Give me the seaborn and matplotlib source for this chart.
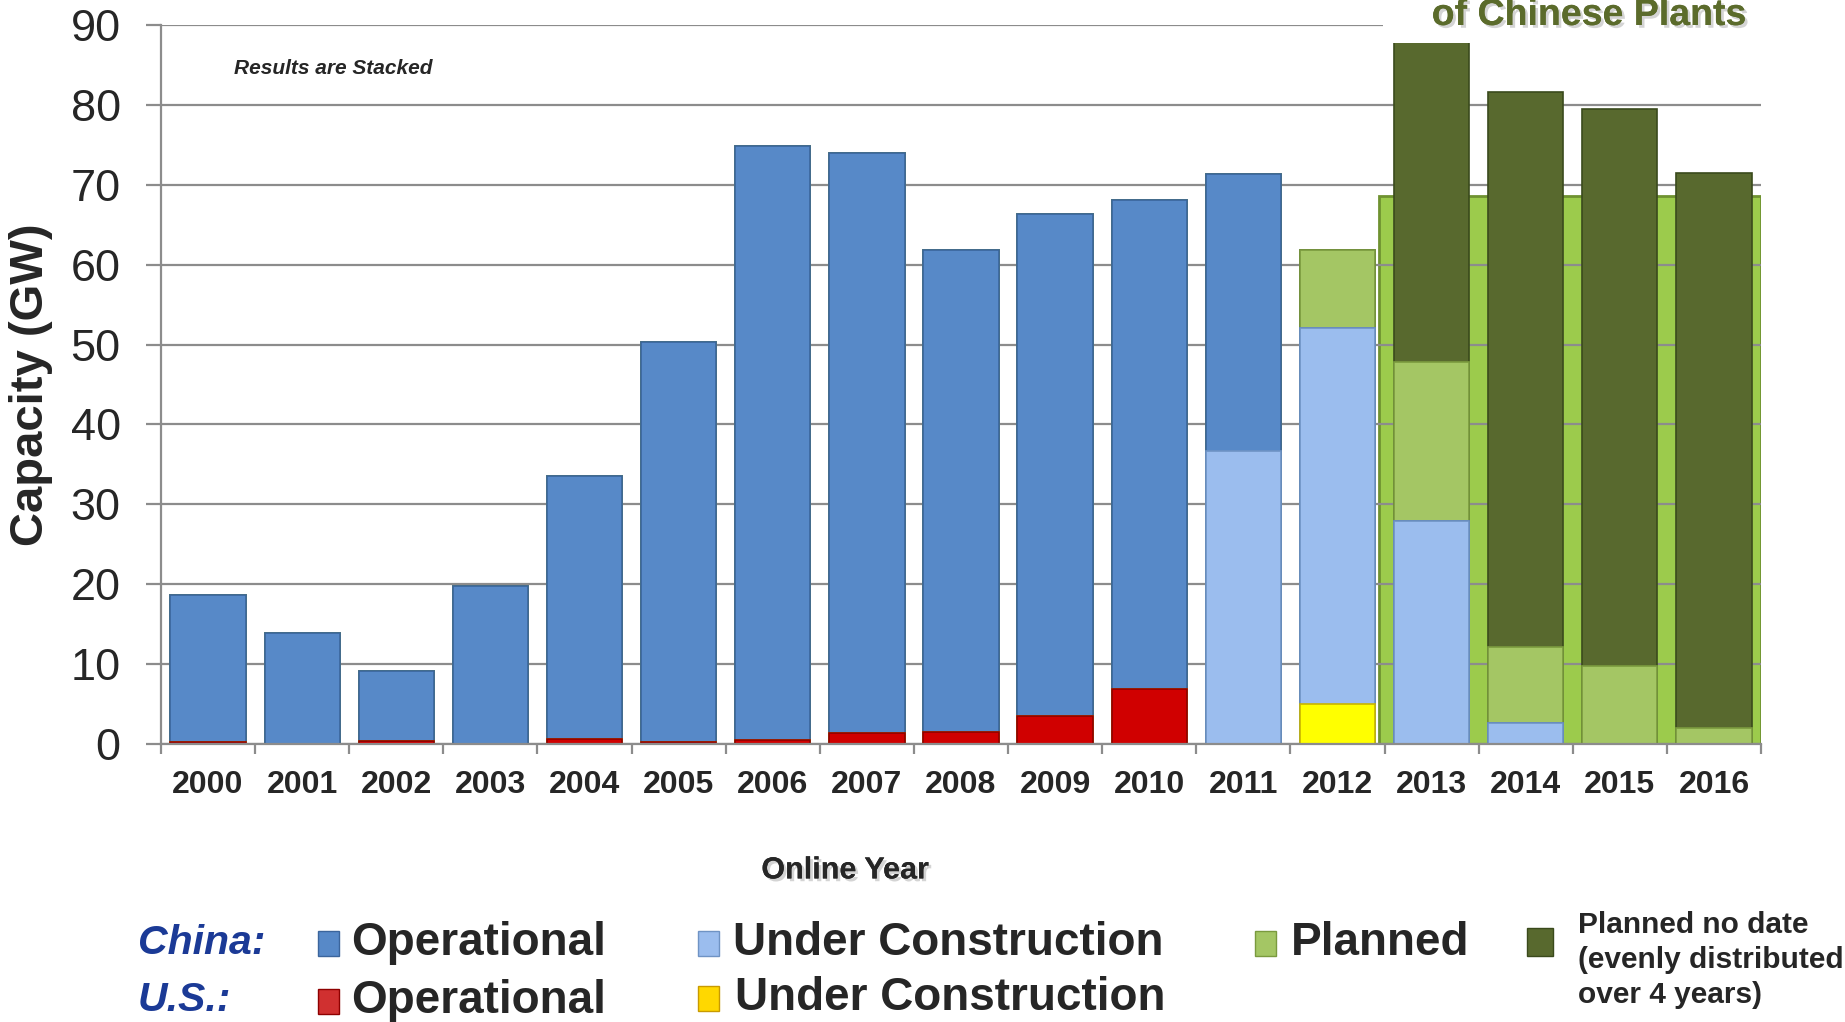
import matplotlib
matplotlib.use('Agg')
from matplotlib import pyplot as plt
from matplotlib.patches import Rectangle
import matplotlib.patheffects as pe
import numpy as np
import pandas as pd
import seaborn as sns

# **************************************************************************
# values (GW), one entry per online year

years = [str(y) for y in range(2000, 2017)]

us_operational = [0.25, 0, 0.4, 0, 0.6, 0.25, 0.55, 1.4, 1.45, 3.5, 6.9,
                  0, 0, 0, 0, 0, 0]
us_under_construction = [0, 0, 0, 0, 0, 0, 0, 0, 0, 0, 0,
                         0, 5.0, 0, 0, 0, 0]
china_under_construction = [0, 0, 0, 0, 0, 0, 0, 0, 0, 0, 0,
                            36.7, 47.1, 27.9, 2.6, 0, 0]
china_operational = [18.35, 13.9, 8.7, 19.8, 33.0, 50.05, 74.25, 72.6, 60.35, 62.9, 61.2,
                     34.7, 0, 0, 0, 0, 0]
china_planned = [0, 0, 0, 0, 0, 0, 0, 0, 0, 0, 0,
                 0, 9.7, 19.9, 9.5, 9.8, 1.95]
china_no_date = [0, 0, 0, 0, 0, 0, 0, 0, 0, 0, 0,
                 0, 0, 69.6, 69.5, 69.7, 69.55]

# planned-no-date total spread over the last four years (background band)
no_date_band_years = ['2013', '2014', '2015', '2016']
no_date_band_height = 68.6

y_ticks = [0, 10, 20, 30, 40, 50, 60, 70, 80, 90]

# **************************************************************************

sns.set_style('white')
plt.rcParams['font.family'] = ['Liberation Sans', 'DejaVu Sans']

W, H = 1845, 1022
fig = plt.figure(figsize=(W / 100, H / 100), dpi=100)
ax = fig.add_axes([161 / W, 1 - 744 / H, 1600 / W, 719 / H])

# layers, bottom to top of each stack
layers = [
    ('US operational', us_operational, '#d00000', '#8e0000'),
    ('US under construction', us_under_construction, '#ffff00', '#c8b400'),
    ('China under construction', china_under_construction, '#9bbdee', '#6f93c4'),
    ('China operational', china_operational, '#5789c8', '#3b659c'),
    ('China planned', china_planned, '#a4c664', '#7a9a3e'),
    ('China planned no date', china_no_date, '#58692e', '#3a4a1c'),
]

df = pd.DataFrame({'year': years})
cum = np.zeros(len(years))
cum_cols = []
for name, vals, col, edge in layers:
    cum = cum + np.array(vals)
    df[name] = cum
    cum_cols.append((name, col, edge))

# background band for the evenly distributed planned capacity
pos = {y: i for i, y in enumerate(years)}
band_left = pos[no_date_band_years[0]] - 0.56
band_right = pos[no_date_band_years[-1]] + 0.5
ax.bar(band_left, no_date_band_height, width=band_right - band_left, align='edge',
       color='#9ccb4c', edgecolor='#6f9230', linewidth=2, zorder=0.3)

# draw cumulative layers from the top one down so each covers the next
for name, col, edge in reversed(cum_cols):
    sns.barplot(data=df, x='year', y=name, order=years, color=col, saturation=1,
                width=0.8, edgecolor=edge, linewidth=1.2, ax=ax, zorder=2)

ax.set_xlim(-0.5, len(years) - 0.5)
ax.set_ylim(0, 90)
ax.set_yticks(y_ticks)
ax.set_yticklabels([str(t) for t in y_ticks], fontsize=32.5)
ax.grid(axis='y', color='#8c8c8c', linewidth=1.6)
ax.grid(axis='x', visible=False)
ax.set_axisbelow(True)

for s in ['top', 'right']:
    ax.spines[s].set_visible(False)
for s in ['left', 'bottom']:
    ax.spines[s].set_color('#8c8c8c')
    ax.spines[s].set_linewidth(1.6)

ax.tick_params(axis='y', which='major', length=11, width=1.6, color='#8c8c8c',
               pad=18, left=True)
ax.tick_params(axis='x', which='major', length=0, pad=19)
ax.set_xticks(np.arange(-0.5, len(years), 1.0), minor=True)
ax.tick_params(axis='x', which='minor', length=7, width=1.6, color='#8c8c8c', bottom=True)
for lab in ax.get_xticklabels():
    lab.set_fontsize(23)
    lab.set_fontweight('bold')

shadow = [pe.withSimplePatchShadow(offset=(2, -2), shadow_rgbFace='#aaaaaa', alpha=0.5), pe.Normal()]

ax.set_ylabel('Capacity (GW)', fontsize=34, fontweight='bold')
ax.yaxis.set_label_coords(-0.0675, 0.5)
ax.set_xlabel('Online Year', fontsize=22, fontweight='bold', path_effects=shadow)
ax.xaxis.set_label_coords(0.4275, -0.155)

ax.text(0.0456, 0.94, 'Results are Stacked', transform=ax.transAxes, fontsize=15,
        fontweight='bold', fontstyle='italic', va='center', ha='left')

# white box behind the (cut off) heading
fig.add_artist(Rectangle((1383 / W, 1 - 43 / H), 1 - 1383 / W, 43 / H,
                         transform=fig.transFigure, facecolor='white', edgecolor='none', zorder=5))
fig.text(1589 / W, 1 - 25 / H, 'of Chinese Plants', fontsize=27, fontweight='bold',
         color='#5b6b2b', ha='center', va='baseline', zorder=6, path_effects=shadow)

# **************************************************************************
# legend at the bottom


def fy(y):
    return 1 - y / H


def legend_box(x, y, color, edge, w=21, h=25):
    fig.add_artist(Rectangle((x / W, fy(y + h / 2)), w / W, h / H, transform=fig.transFigure,
                             facecolor=color, edgecolor=edge, linewidth=1, zorder=6))


label_kw = dict(fontsize=33, fontweight='bold', va='center', ha='left')
country_kw = dict(fontsize=29.5, fontweight='bold', fontstyle='italic', color='#1b3a96',
                  va='center', ha='left')

fig.text(138 / W, fy(943), 'China:', **country_kw)
fig.text(138 / W, fy(1000), 'U.S.:', **country_kw)

legend_box(318, 943, '#5789c8', '#3b659c')
fig.text(351 / W, fy(943), 'Operational', **label_kw)
legend_box(318, 1001, '#d03030', '#8e0000')
fig.text(351 / W, fy(1001), 'Operational', **label_kw)

legend_box(698, 943, '#9bbdee', '#6f93c4')
fig.text(733 / W, fy(943), 'Under Construction', **label_kw)
legend_box(698, 998, '#ffd800', '#c89a00')
fig.text(735 / W, fy(998), 'Under Construction', **label_kw)

legend_box(1255, 943, '#a4c664', '#7a9a3e')
fig.text(1291 / W, fy(943), 'Planned', **label_kw)

legend_box(1527, 942, '#58692e', '#3a4a1c', w=26, h=28)
fig.text(1578 / W, fy(960), 'Planned no date\n(evenly distributed\nover 4 years)',
         fontsize=21.5, fontweight='bold', va='center', ha='left', linespacing=1.3)

fig.savefig('out.png', dpi=100)
